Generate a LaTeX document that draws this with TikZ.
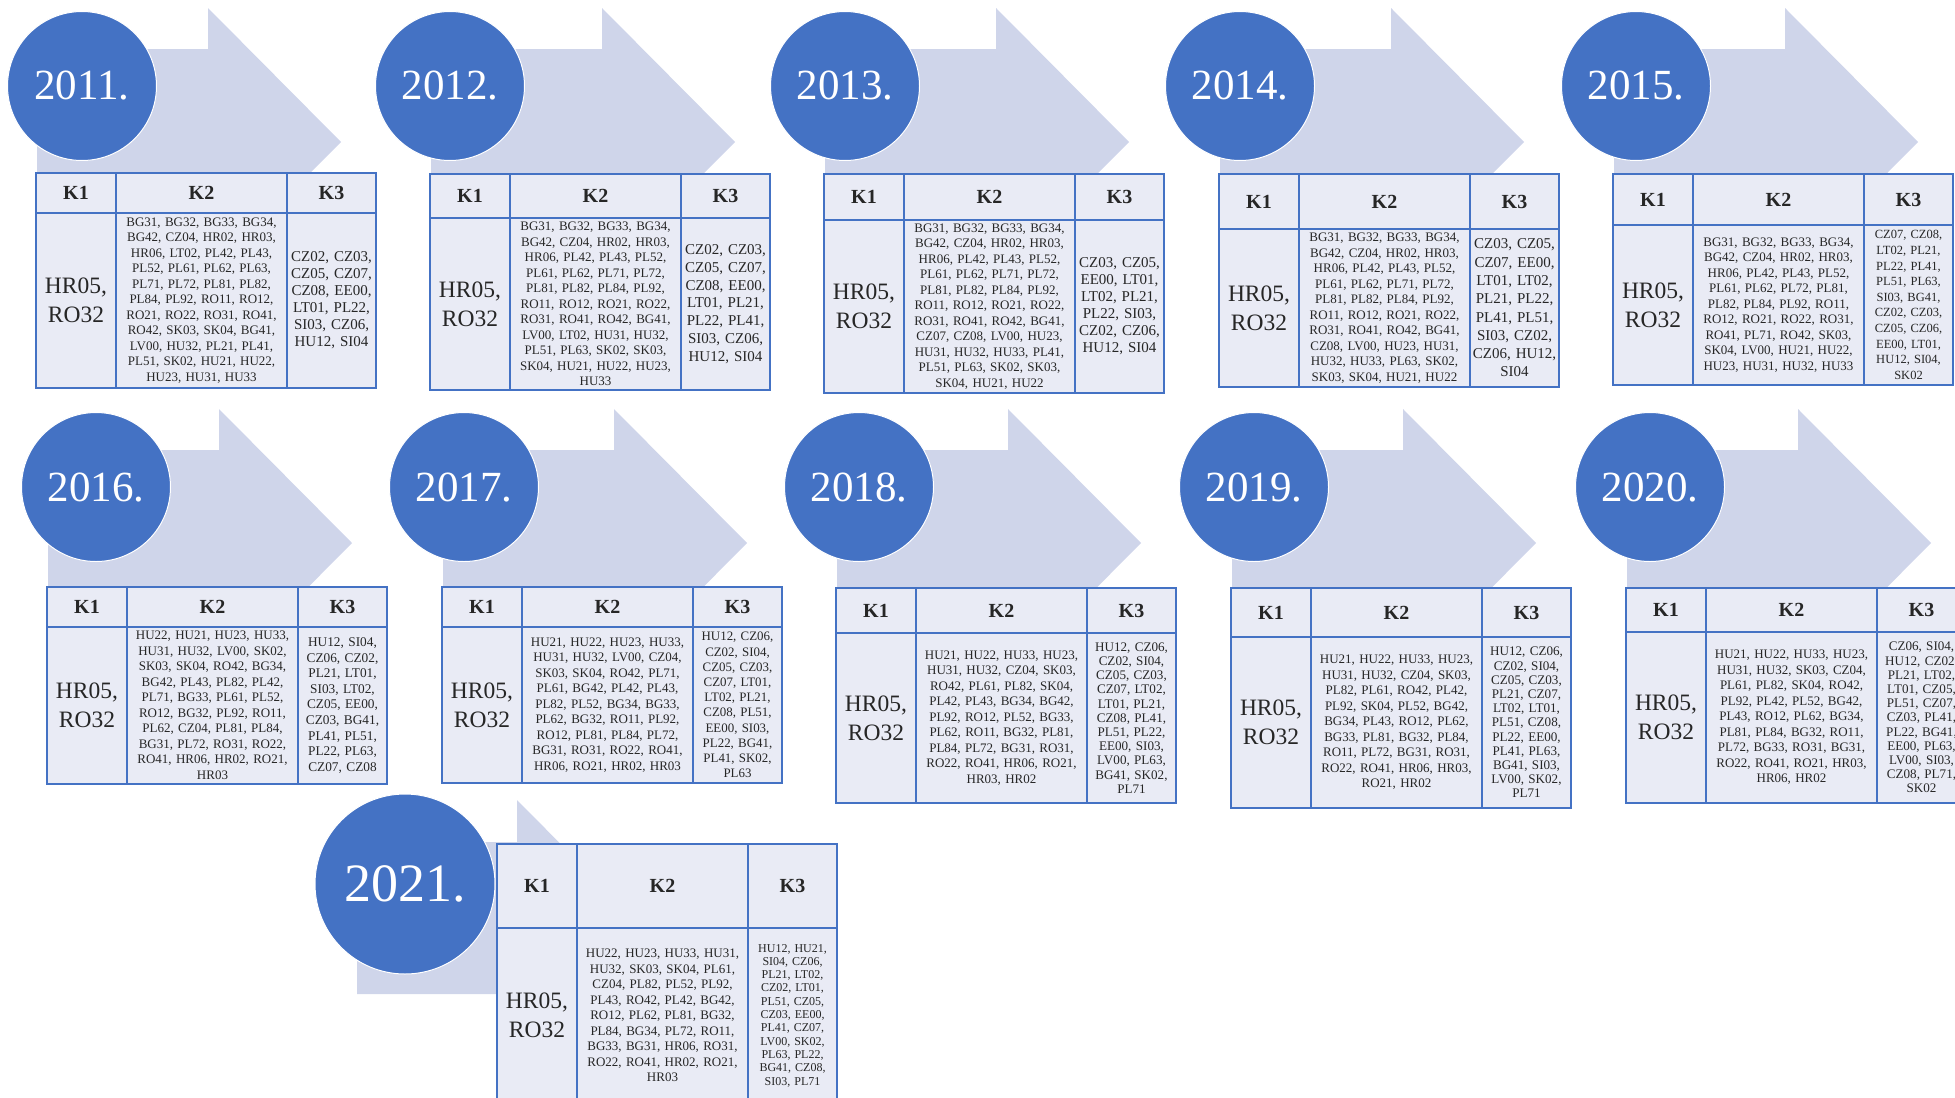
\documentclass[tikz,border=0pt]{standalone}
\usepackage{fontspec}
\setmainfont{Liberation Serif}
\usetikzlibrary{positioning}

\definecolor{ballblue}{HTML}{4472C4}
\definecolor{cellfill}{HTML}{E9EBF5}
\definecolor{arrowfill}{HTML}{CFD5EA}

\newcommand{\tsize}[2]{\fontsize{#1pt}{#2pt}\selectfont}
\newcommand{\yearfont}{\fontsize{43pt}{43pt}\selectfont}
\newcommand{\headfont}{\fontsize{20pt}{20pt}\selectfont\bfseries}
\newcommand{\konefont}{\fontsize{23.5pt}{29pt}\selectfont}
\newcommand{\ktwofont}{\fontsize{13pt}{15.5pt}\selectfont}

% arrow behind a year: #1 table x, #2 circle y
\newcommand{\yeararrow}[2]{%
  \fill[backarrow, shift={(#1,#2)}] (1,-37) -- (172,-37) -- (172,-78) -- (305,56)
    -- (172,190) -- (172,149) -- (1,149) -- cycle;
}

% one table: #1 name, #2 corner, #3 head height, #4 body height, #5 K2, #6 K3 size, #7 K3
\newcommand{\yeartable}[7]{%
  \node[headcell, minimum width=80pt, minimum height=#3, anchor=north west] (#1h1) at (#2) {K1};
  \node[headcell, minimum width=171pt, minimum height=#3, right=0pt of #1h1] (#1h2) {K2};
  \node[headcell, minimum width=89pt, minimum height=#3, right=0pt of #1h2] (#1h3) {K3};
  \node[bodycell, font=\konefont, minimum width=80pt, minimum height=#4, below=0pt of #1h1] (#1b1) {HR05,\\RO32};
  \node[bodycell, font=\ktwofont, text width=171pt, minimum height=#4, below=0pt of #1h2] (#1b2) {#5};
  \node[bodycell, font=#6, text width=89pt, minimum height=#4, below=0pt of #1h3] (#1b3) {#7};
}

\begin{document}
\begin{tikzpicture}
  [x=1pt, y=-1pt,
   yearball/.style={circle, fill=ballblue, draw=white, line width=1pt, text=white,
     minimum size=149pt, inner sep=0pt, font=\yearfont},
   headcell/.style={rectangle, draw=ballblue, line width=2pt, fill=cellfill,
     inner sep=0pt, outer sep=0pt, text=black!85, font=\headfont},
   bodycell/.style={rectangle, draw=ballblue, line width=2pt, fill=cellfill,
     inner sep=0pt, outer sep=0pt, text=black!85, align=center},
   backarrow/.style={fill=arrowfill}]

  \useasboundingbox (0,0) rectangle (1955,1098);
  \clip (0,0) rectangle (1955,1098);

  % first row
  \yeararrow{36}{86}
  \node[yearball] (y2011) at (82,86) {2011.};
  \yeartable{t2011}{36,173}{40pt}{175pt}
    {BG31, BG32, BG33, BG34,\\BG42, CZ04, HR02, HR03,\\HR06, LT02, PL42, PL43,\\PL52, PL61, PL62, PL63,\\PL71, PL72, PL81, PL82,\\PL84, PL92, RO11, RO12,\\RO21, RO22, RO31, RO41,\\RO42, SK03, SK04, BG41,\\LV00, HU32, PL21, PL41,\\PL51, SK02, HU21, HU22,\\HU23, HU31, HU33}
    {\tsize{15}{17}}
    {CZ02, CZ03,\\CZ05, CZ07,\\CZ08, EE00,\\LT01, PL22,\\SI03, CZ06,\\HU12, SI04}

  \yeararrow{430}{86}
  \node[yearball] (y2012) at (450,86) {2012.};
  \yeartable{t2012}{430,174}{44pt}{172pt}
    {BG31, BG32, BG33, BG34,\\BG42, CZ04, HR02, HR03,\\HR06, PL42, PL43, PL52,\\PL61, PL62, PL71, PL72,\\PL81, PL82, PL84, PL92,\\RO11, RO12, RO21, RO22,\\RO31, RO41, RO42, BG41,\\LV00, LT02, HU31, HU32,\\PL51, PL63, SK02, SK03,\\SK04, HU21, HU22, HU23,\\HU33}
    {\tsize{15}{17.8}}
    {CZ02, CZ03,\\CZ05, CZ07,\\CZ08, EE00,\\LT01, PL21,\\PL22, PL41,\\SI03, CZ06,\\HU12, SI04}

  \yeararrow{824}{86}
  \node[yearball] (y2013) at (845,86) {2013.};
  \yeartable{t2013}{824,174}{46pt}{173pt}
    {BG31, BG32, BG33, BG34,\\BG42, CZ04, HR02, HR03,\\HR06, PL42, PL43, PL52,\\PL61, PL62, PL71, PL72,\\PL81, PL82, PL84, PL92,\\RO11, RO12, RO21, RO22,\\RO31, RO41, RO42, BG41,\\CZ07, CZ08, LV00, HU23,\\HU31, HU32, HU33, PL41,\\PL51, PL63, SK02, SK03,\\SK04, HU21, HU22}
    {\tsize{15}{17}}
    {CZ03, CZ05,\\EE00, LT01,\\LT02, PL21,\\PL22, SI03,\\CZ02, CZ06,\\HU12, SI04}

  \yeararrow{1219}{86}
  \node[yearball] (y2014) at (1240,86) {2014.};
  \yeartable{t2014}{1219,174}{55pt}{158pt}
    {BG31, BG32, BG33, BG34,\\BG42, CZ04, HR02, HR03,\\HR06, PL42, PL43, PL52,\\PL61, PL62, PL71, PL72,\\PL81, PL82, PL84, PL92,\\RO11, RO12, RO21, RO22,\\RO31, RO41, RO42, BG41,\\CZ08, LV00, HU23, HU31,\\HU32, HU33, PL63, SK02,\\SK03, SK04, HU21, HU22}
    {\tsize{15}{18.3}}
    {CZ03, CZ05,\\CZ07, EE00,\\LT01, LT02,\\PL21, PL22,\\PL41, PL51,\\SI03, CZ02,\\CZ06, HU12,\\SI04}

  \yeararrow{1613}{86}
  \node[yearball] (y2015) at (1636,86) {2015.};
  \yeartable{t2015}{1613,174}{51pt}{160pt}
    {BG31, BG32, BG33, BG34,\\BG42, CZ04, HR02, HR03,\\HR06, PL42, PL43, PL52,\\PL61, PL62, PL72, PL81,\\PL82, PL84, PL92, RO11,\\RO12, RO21, RO22, RO31,\\RO41, PL71, RO42, SK03,\\SK04, LV00, HU21, HU22,\\HU23, HU31, HU32, HU33}
    {\tsize{12.5}{15.6}}
    {CZ07, CZ08,\\LT02, PL21,\\PL22, PL41,\\PL51, PL63,\\SI03, BG41,\\CZ02, CZ03,\\CZ05, CZ06,\\EE00, LT01,\\HU12, SI04,\\SK02}

  % second row
  \yeararrow{47}{487}
  \node[yearball] (y2016) at (96,487) {2016.};
  \yeartable{t2016}{47,587}{40pt}{157pt}
    {HU22, HU21, HU23, HU33,\\HU31, HU32, LV00, SK02,\\SK03, SK04, RO42, BG34,\\BG42, PL43, PL82, PL42,\\PL71, BG33, PL61, PL52,\\RO12, BG32, PL92, RO11,\\PL62, CZ04, PL81, PL84,\\BG31, PL72, RO31, RO22,\\RO41, HR06, HR02, RO21,\\HR03}
    {\tsize{13.3}{15.6}}
    {HU12, SI04,\\CZ06, CZ02,\\PL21, LT01,\\SI03, LT02,\\CZ05, EE00,\\CZ03, BG41,\\PL41, PL51,\\PL22, PL63,\\CZ07, CZ08}

  \yeararrow{442}{487}
  \node[yearball] (y2017) at (464,487) {2017.};
  \yeartable{t2017}{442,587}{40pt}{156pt}
    {HU21, HU22, HU23, HU33,\\HU31, HU32, LV00, CZ04,\\SK03, SK04, RO42, PL71,\\PL61, BG42, PL42, PL43,\\PL82, PL52, BG34, BG33,\\PL62, BG32, RO11, PL92,\\RO12, PL81, PL84, PL72,\\BG31, RO31, RO22, RO41,\\HR06, RO21, HR02, HR03}
    {\tsize{12.9}{15.2}}
    {HU12, CZ06,\\CZ02, SI04,\\CZ05, CZ03,\\CZ07, LT01,\\LT02, PL21,\\CZ08, PL51,\\EE00, SI03,\\PL22, BG41,\\PL41, SK02,\\PL63}

  \yeararrow{836}{487}
  \node[yearball] (y2018) at (859,487) {2018.};
  \yeartable{t2018}{836,588}{45pt}{170pt}
    {HU21, HU22, HU33, HU23,\\HU31, HU32, CZ04, SK03,\\RO42, PL61, PL82, SK04,\\PL42, PL43, BG34, BG42,\\PL92, RO12, PL52, BG33,\\PL62, RO11, BG32, PL81,\\PL84, PL72, BG31, RO31,\\RO22, RO41, HR06, RO21,\\HR03, HR02}
    {\tsize{13.1}{14.2}}
    {HU12, CZ06,\\CZ02, SI04,\\CZ05, CZ03,\\CZ07, LT02,\\LT01, PL21,\\CZ08, PL41,\\PL51, PL22,\\EE00, SI03,\\LV00, PL63,\\BG41, SK02,\\PL71}

  \yeararrow{1231}{487}
  \node[yearball] (y2019) at (1254,487) {2019.};
  \yeartable{t2019}{1231,588}{49pt}{171pt}
    {HU21, HU22, HU33, HU23,\\HU31, HU32, CZ04, SK03,\\PL82, PL61, RO42, PL42,\\PL92, SK04, PL52, BG42,\\BG34, PL43, RO12, PL62,\\BG33, PL81, BG32, PL84,\\RO11, PL72, BG31, RO31,\\RO22, RO41, HR06, HR03,\\RO21, HR02}
    {\tsize{13.1}{14.2}}
    {HU12, CZ06,\\CZ02, SI04,\\CZ05, CZ03,\\PL21, CZ07,\\LT02, LT01,\\PL51, CZ08,\\PL22, EE00,\\PL41, PL63,\\BG41, SI03,\\LV00, SK02,\\PL71}

  \yeararrow{1626}{487}
  \node[yearball] (y2020) at (1650,487) {2020.};
  \yeartable{t2020}{1626,588}{44pt}{171pt}
    {HU21, HU22, HU33, HU23,\\HU31, HU32, SK03, CZ04,\\PL61, PL82, SK04, RO42,\\PL92, PL42, PL52, BG42,\\PL43, RO12, PL62, BG34,\\PL81, PL84, BG32, RO11,\\PL72, BG33, RO31, BG31,\\RO22, RO41, RO21, HR03,\\HR06, HR02}
    {\tsize{13.1}{14.2}}
    {CZ06, SI04,\\HU12, CZ02,\\PL21, LT02,\\LT01, CZ05,\\PL51, CZ07,\\CZ03, PL41,\\PL22, BG41,\\EE00, PL63,\\LV00, SI03,\\CZ08, PL71,\\SK02}

  % last year, larger ball
  \fill[backarrow] (357,842) -- (517,842) -- (517,800) -- (634,918)
    -- (517,1035) -- (517,994) -- (357,994) -- cycle;
  \node[yearball, minimum size=180pt, font=\tsize{54}{54}] (y2021) at (405,884) {2021.};
  \yeartable{t2021}{497,844}{84pt}{175pt}
    {HU22, HU23, HU33, HU31,\\HU32, SK03, SK04, PL61,\\CZ04, PL82, PL52, PL92,\\PL43, RO42, PL42, BG42,\\RO12, PL62, PL81, BG32,\\PL84, BG34, PL72, RO11,\\BG33, BG31, HR06, RO31,\\RO22, RO41, HR02, RO21,\\HR03}
    {\tsize{12}{13.3}}
    {HU12, HU21,\\SI04, CZ06,\\PL21, LT02,\\CZ02, LT01,\\PL51, CZ05,\\CZ03, EE00,\\PL41, CZ07,\\LV00, SK02,\\PL63, PL22,\\BG41, CZ08,\\SI03, PL71}
\end{tikzpicture}
\end{document}
